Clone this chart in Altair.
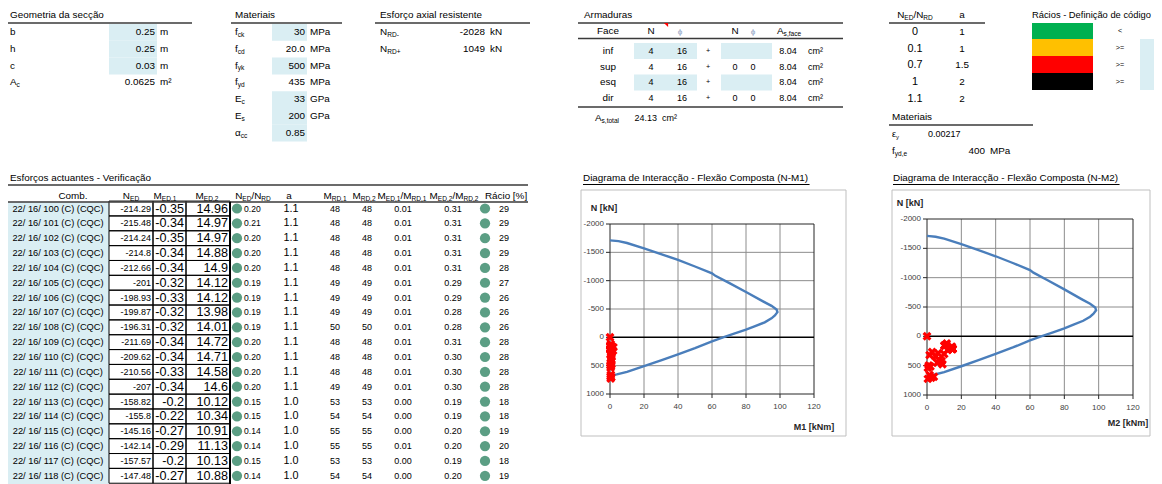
import altair as alt
import pandas as pd

# ---------------------------------------------------------------- data
geo_labels = [("b", ""), ("h", ""), ("c", ""), ("A", "c")]
geo_values = ["0.25", "0.25", "0.03", "0.0625"]
geo_units = ["m", "m", "m", "m²"]
geo_input = [True, True, True, False]

mat_labels = [("f", "ck"), ("f", "cd"), ("f", "yk"), ("f", "yd"), ("E", "c"), ("E", "s"), ("α", "cc")]
mat_values = ["30", "20.0", "500", "435", "33", "200", "0.85"]
mat_units = ["MPa", "MPa", "MPa", "MPa", "GPa", "GPa", ""]
mat_input = [True, False, True, False, True, True, True]

axial_labels = [("N", "RD-"), ("N", "RD+")]
axial_values = ["-2028", "1049"]

arm_faces = ["inf", "sup", "esq", "dir"]
arm_n1 = ["4", "4", "4", "4"]
arm_phi1 = ["16", "16", "16", "16"]
arm_n2 = ["", "0", "", "0"]
arm_phi2 = ["", "0", "", "0"]
arm_as = ["8.04", "8.04", "8.04", "8.04"]
arm_input = [True, False, True, False]
arm_total = "24.13"

a_ratio = ["0", "0.1", "0.7", "1", "1.1"]
a_value = ["1", "1", "1.5", "2", "2"]
eps_y = "0.00217"
fyd_e = "400"

code_colors = ["#00B050", "#FFC000", "#FF0000", "#000000"]
code_ops = ["<", ">=", ">=", ">="]

comb = ["22/ 16/ 100 (C) (CQC)", "22/ 16/ 101 (C) (CQC)", "22/ 16/ 102 (C) (CQC)", "22/ 16/ 103 (C) (CQC)",
        "22/ 16/ 104 (C) (CQC)", "22/ 16/ 105 (C) (CQC)", "22/ 16/ 106 (C) (CQC)", "22/ 16/ 107 (C) (CQC)",
        "22/ 16/ 108 (C) (CQC)", "22/ 16/ 109 (C) (CQC)", "22/ 16/ 110 (C) (CQC)", "22/ 16/ 111 (C) (CQC)",
        "22/ 16/ 112 (C) (CQC)", "22/ 16/ 113 (C) (CQC)", "22/ 16/ 114 (C) (CQC)", "22/ 16/ 115 (C) (CQC)",
        "22/ 16/ 116 (C) (CQC)", "22/ 16/ 117 (C) (CQC)", "22/ 16/ 118 (C) (CQC)"]
n_ed = [-214.29, -215.48, -214.24, -214.8, -212.66, -201, -198.93, -199.87, -196.31, -211.69,
        -209.62, -210.56, -207, -158.82, -155.8, -145.16, -142.14, -157.57, -147.48]
m_ed1 = [-0.35, -0.34, -0.35, -0.34, -0.34, -0.32, -0.33, -0.32, -0.32, -0.34,
         -0.34, -0.33, -0.34, -0.2, -0.22, -0.27, -0.29, -0.2, -0.27]
m_ed2 = [14.96, 14.97, 14.97, 14.88, 14.9, 14.12, 14.12, 13.98, 14.01, 14.72,
         14.71, 14.58, 14.6, 10.12, 10.34, 10.91, 11.13, 10.13, 10.88]
n_ratio = [0.20, 0.21, 0.20, 0.20, 0.20, 0.19, 0.19, 0.19, 0.19, 0.20,
           0.20, 0.20, 0.20, 0.15, 0.15, 0.14, 0.14, 0.15, 0.14]
a_row = [1.1, 1.1, 1.1, 1.1, 1.1, 1.1, 1.1, 1.1, 1.1, 1.1, 1.1, 1.1, 1.1, 1.0, 1.0, 1.0, 1.0, 1.0, 1.0]
m_rd1 = [48, 48, 48, 48, 48, 49, 49, 49, 50, 48, 48, 48, 49, 53, 54, 55, 55, 53, 54]
m_rd2 = [48, 48, 48, 48, 48, 49, 49, 49, 50, 48, 48, 48, 49, 53, 54, 55, 55, 53, 54]
r_m1 = [0.01, 0.01, 0.01, 0.01, 0.01, 0.01, 0.01, 0.01, 0.01, 0.01,
        0.01, 0.01, 0.01, 0.00, 0.00, 0.00, 0.01, 0.00, 0.00]
r_m2 = [0.31, 0.31, 0.31, 0.31, 0.31, 0.29, 0.29, 0.28, 0.28, 0.31,
        0.30, 0.30, 0.30, 0.19, 0.19, 0.20, 0.20, 0.19, 0.20]
racio = [29, 29, 29, 29, 28, 27, 26, 26, 26, 28, 28, 28, 28, 18, 18, 19, 20, 18, 19]

# combinations further down the sheet (not visible in the table, only in the diagrams)
hid_n_ed = [0, -120, -175, -235, -265, -290, -300, -320, -345, -395, -420, -450, -475, -495, -515, -535,
            -660, -690, -705, -725]
hid_m1 = [0.0, 0.5, 2.0, 1.8, 0.6, 0.9, 0.3, 0.7, 1.0, 0.5, 0.8, 0.4, 0.9, 0.2, 0.6, 0.3, 0.5, 0.3, 0.8, 0.4]
hid_m2 = [0.0, 11.5, 14.5, 12.0, 3.0, 6.5, 10.0, 1.5, 5.0, 7.0, 8.5, 6.0, 9.0, 1.0, 2.0, 0.5, 1.5, 4.0, 2.5, 0.5]

# interaction curve (M [kNm], N [kN])
curve_m = [0, 5, 10, 20, 30, 40, 50, 60, 62, 70, 80, 90, 95, 98, 98.5, 97, 95, 91, 85, 80,
           73, 66.5, 60, 50, 40, 30, 20, 10, 4, 0]
curve_n = [-1712, -1698, -1665, -1570, -1470, -1365, -1250, -1130, -1085, -960, -800, -635, -555, -490,
           -445, -385, -335, -265, -195, -135, -65, 0, 70, 190, 300, 405, 510, 610, 655, 680]

n_ticks = [-2000, -1500, -1000, -500, 0, 500, 1000]
m_ticks = [0, 20, 40, 60, 80, 100, 120]

# ---------------------------------------------------------------- style
W, H = 1146, 476
FONT = "Liberation Sans, Arial, sans-serif"      # used at reduced size to imitate Arial Narrow
FONT_R = "Liberation Sans, Arial, sans-serif"    # regular
NF = 0.9
BLUE = "#DAEEF3"
LINE = "#3a3a3a"
GREEN_DOT = "#5B9E84"

AW = {' ': 278, '.': 278, ',': 278, '-': 333, '/': 278, '+': 584, '(': 333, ')': 333, '[': 278, ']': 278,
      '%': 889, '<': 584, '>': 584, '=': 584, 'A': 667, 'C': 722, 'D': 722, 'E': 667, 'M': 833, 'N': 722,
      'Q': 778, 'R': 722, 'a': 556, 'c': 500, 'd': 556, 'e': 556, 'f': 278, 'k': 500, 's': 500, 'y': 500,
      'l': 222, 't': 278, 'o': 556, 'i': 222, 'r': 333, 'α': 578, 'ε': 440, 'ϕ': 600, 'g': 556, 'm': 833,
      'n': 556, 'p': 556, 'u': 556, 'x': 500, 'ç': 500, 'ã': 556, 'I': 278, 'F': 611, 'P': 667, 'v': 500}


def tw(s, size):
    return sum(AW.get(c, 556) for c in s) / 1000.0 * size * NF


TX, RU, RE = {}, {}, {}


def T(x, y, t, align="left", size=11, color="#000000", weight="normal", font=FONT):
    fs = round(size * NF, 2) if font == FONT else size
    TX.setdefault((align, fs, color, weight, font), []).append(dict(x=x, y=y, t=str(t)))


def R(x, y, parts, align="left", size=11, color="#000000"):
    sub = round(size * 0.66, 1)
    widths = [tw(p, sub if s else size) for p, s in parts]
    total = sum(widths)
    x0 = x if align == "left" else (x - total / 2 if align == "center" else x - total)
    for (p, s), w in zip(parts, widths):
        if p:
            if s:
                T(x0, y + size * 0.25, p, "left", sub, color)
            else:
                T(x0, y, p, "left", size, color)
        x0 += w


def L(x1, y1, x2, y2, color=LINE, width=1.0):
    RU.setdefault((color, width), []).append(dict(x=x1, y=y1, x2=x2, y2=y2))


def B(x1, y1, x2, y2, fill="none", stroke="none", sw=1.0):
    RE.setdefault((fill, stroke, sw), []).append(dict(x=x1, y=y1, x2=x2, y2=y2))


CXS = alt.Scale(domain=[0, W + 16], range=[-8, W + 8], nice=False, zero=False)
CYS = alt.Scale(domain=[0, H + 16], range=[-8, H + 8], nice=False, zero=False)


def cX(f):
    return alt.X(f + ":Q", scale=CXS, axis=None)


def cY(f):
    return alt.Y(f + ":Q", scale=CYS, axis=None)


# ---------------------------------------------------------------- Geometria
RY = 16.8
T(10, 15, "Geometria da secção")
L(6, 23, 192, 23, width=1.5)
for i in range(4):
    y = 32 + RY * i
    if geo_input[i]:
        B(109, y - 8, 157, y + 8.8, fill=BLUE)
    R(10, y, [(geo_labels[i][0], 0), (geo_labels[i][1], 1)])
    T(155, y, geo_values[i], "right")
    T(160, y, geo_units[i])

# ---------------------------------------------------------------- Materiais
T(235, 15, "Materiais")
L(231, 23, 342, 23, width=1.5)
for i in range(7):
    y = 32 + RY * i
    if mat_input[i]:
        B(272, y - 8, 307, y + 8.8, fill=BLUE)
    R(235, y, [(mat_labels[i][0], 0), (mat_labels[i][1], 1)])
    T(305, y, mat_values[i], "right")
    T(310, y, mat_units[i])

# ---------------------------------------------------------------- Esforço axial
T(380, 15, "Esforço axial resistente")
L(375, 23, 530, 23, width=1.5)
for i in range(2):
    y = 32 + RY * i
    R(380, y, [(axial_labels[i][0], 0), (axial_labels[i][1], 1)])
    T(485, y, axial_values[i], "right")
    T(490, y, "kN")

# ---------------------------------------------------------------- Armaduras
T(584, 15, "Armaduras")
L(578, 23, 843, 23, width=1.5)
L(578, 38.5, 843, 38.5, width=1.5)
L(578, 107, 843, 107, width=1.5)
T(608, 31, "Face", "center")
T(651, 31, "N", "center")
T(680, 32, "ϕ", "center", 9, "#8E9FC4", font=FONT_R)
T(735, 31, "N", "center")
T(753, 32, "ϕ", "center", 9, "#8E9FC4", font=FONT_R)
R(777, 31, [("A", 0), ("s,face", 1)])
for i in range(4):
    y = 51 + 15.7 * i
    if arm_input[i]:
        B(634, y - 8, 697, y + 8, fill=BLUE)
        B(721, y - 8, 772, y + 8, fill=BLUE)
    T(608, y, arm_faces[i], "center")
    T(651, y, arm_n1[i], "center", 10)
    T(682, y, arm_phi1[i], "center", 10)
    T(708, y, "+", "center", 8)
    T(735, y, arm_n2[i], "center", 10)
    T(753, y, arm_phi2[i], "center", 10)
    T(788, y, arm_as[i], "center", 10)
    T(808, y, "cm²", "left", 10)
R(607, 118, [("A", 0), ("s,total", 1)], "center")
T(657, 118, arm_total, "right", 10)
T(662, 118, "cm²", "left", 10)

# ---------------------------------------------------------------- N/N - a table
R(915, 15, [("N", 0), ("ED", 1), ("/N", 0), ("RD", 1)], "center")
T(962, 15, "a", "center")
L(889, 23, 985, 23, width=1.5)
for i in range(5):
    y = 32 + 16.7 * i
    T(915, y, a_ratio[i], "center", 12, font=FONT_R)
    T(962, y, a_value[i], "center", 11)
T(892, 117, "Materiais")
L(889, 125, 1033, 125, width=1.5)
R(892, 134, [("ε", 0), ("y", 1)], size=10)
T(928, 134, eps_y, "left", 10)
R(892, 151, [("f", 0), ("yd,e", 1)])
T(985, 151, fyd_e, "right")
T(990, 151, "MPa")

# ---------------------------------------------------------------- Rácios
T(1032, 15, "Rácios - Definição de código", "left", 10.4, font=FONT_R)
bounds = [23, 39, 56, 73, 90]
for i in range(4):
    B(1032, bounds[i], 1093, bounds[i + 1], fill=code_colors[i])
    T(1120, (bounds[i] + bounds[i + 1]) / 2, code_ops[i], "center", 8)
B(1140, 39, 1162, 90, fill=BLUE)

# ---------------------------------------------------------------- Esforços actuantes
T(10, 178, "Esforços actuantes - Verificação")
L(8, 185, 528, 185, width=1.5)
L(8, 202, 528, 202, width=1.5)
B(8, 202.5, 109, 492, fill=BLUE)
HY = 196
T(73, HY, "Comb.", "center")
R(131, HY, [("N", 0), ("ED", 1)], "center")
R(165, HY, [("M", 0), ("ED,1", 1)], "center")
R(207, HY, [("M", 0), ("ED,2", 1)], "center")
R(253, HY, [("N", 0), ("ED", 1), ("/N", 0), ("RD", 1)], "center")
T(289, HY, "a", "center")
R(335, HY, [("M", 0), ("RD,1", 1)], "center")
R(364, HY, [("M", 0), ("RD,2", 1)], "center")
R(402, HY, [("M", 0), ("ED,1", 1), ("/M", 0), ("RD,1", 1)], "center")
R(454, HY, [("M", 0), ("ED,2", 1), ("/M", 0), ("RD,2", 1)], "center")
T(506, HY, "Rácio [%]", "center")

ROW0, RH = 208.5, 14.85
dots = []
for i in range(len(comb)):
    y = ROW0 + RH * i
    for xa, xb in [(109, 153), (153, 186), (186, 230)]:
        B(xa, y - RH / 2, xb, y + RH / 2, stroke="#000000", sw=1)
    T(58, y, comb[i], "center", 10.3)
    T(151, y, f"{n_ed[i]:g}", "right", 10)
    T(184, y, f"{m_ed1[i]:g}", "right", 14)
    T(228, y, f"{m_ed2[i]:g}", "right", 14)
    T(244, y, f"{n_ratio[i]:.2f}", "left", 9.5)
    T(291, y, f"{a_row[i]:.1f}", "center", 12, font=FONT_R)
    T(335, y, m_rd1[i], "center", 10)
    T(367, y, m_rd2[i], "center", 10)
    T(403, y, f"{r_m1[i]:.2f}", "center", 10)
    T(453, y, f"{r_m2[i]:.2f}", "center", 10)
    T(504, y, racio[i], "center", 10)
    dots.append(dict(x=237, y=y))
    dots.append(dict(x=485, y=y))
L(230, 202, 230, 492, "#000000", 2)

# ---------------------------------------------------------------- layers
layers = []
for (fill, stroke, sw), rows in RE.items():
    kw = {}
    if fill == "none":
        kw.update(fill="white", fillOpacity=0)
    else:
        kw.update(fill=fill)
    if stroke != "none":
        kw.update(stroke=stroke, strokeWidth=sw)
    else:
        kw.update(strokeWidth=0)
    layers.append(alt.Chart(pd.DataFrame(rows)).mark_rect(**kw).encode(
        x=cX("x"), x2="x2:Q", y=cY("y"), y2="y2:Q"))
for (color, width), rows in RU.items():
    layers.append(alt.Chart(pd.DataFrame(rows)).mark_rule(color=color, strokeWidth=width).encode(
        x=cX("x"), x2="x2:Q", y=cY("y"), y2="y2:Q"))
layers.append(alt.Chart(pd.DataFrame(dots)).mark_circle(size=105, color=GREEN_DOT, opacity=1).encode(
    x=cX("x"), y=cY("y")))

# ---------------------------------------------------------------- diagrams
XSHAPE = "M-1,-0.5L-0.5,-1L0,-0.5L0.5,-1L1,-0.5L0.5,0L1,0.5L0.5,1L0,0.5L-0.5,1L-1,0.5L-0.5,0Z"
curve_df = pd.DataFrame(dict(m=curve_m, n=curve_n, o=list(range(len(curve_m)))))


def diagram(px0, px1, py0, py1, area, title, tpos, mlab, mpos, npos, mvals):
    xs = alt.Scale(domain=[0, 120], range=[px0 - 8, px1 - 8], nice=False, zero=False)
    ys = alt.Scale(domain=[-2000, 1000], range=[py0 - 8, py1 - 8], nice=False, zero=False)
    X = lambda f: alt.X(f + ":Q", scale=xs, axis=None)
    Y = lambda f: alt.Y(f + ":Q", scale=ys, axis=None)
    out = []
    out.append(alt.Chart(pd.DataFrame([dict(x=area[0], y=area[1], x2=area[2], y2=area[3])])).mark_rect(
        fill="white", stroke="#BFBFBF", strokeWidth=1).encode(x=cX("x"), x2="x2:Q", y=cY("y"), y2="y2:Q"))
    gv = pd.DataFrame(dict(m=m_ticks[1:-1], n0=-2000, n1=1000))
    out.append(alt.Chart(gv).mark_rule(color="#8C8C8C", strokeWidth=1).encode(x=X("m"), y=Y("n0"), y2="n1:Q"))
    gh = pd.DataFrame(dict(n=[t for t in n_ticks[1:-1] if t != 0], m0=0, m1=120))
    out.append(alt.Chart(gh).mark_rule(color="#8C8C8C", strokeWidth=1).encode(y=Y("n"), x=X("m0"), x2="m1:Q"))
    out.append(alt.Chart(pd.DataFrame([dict(m0=0, m1=120, n0=-2000, n1=1000)])).mark_rect(
        fill="white", fillOpacity=0, stroke="#262626", strokeWidth=1).encode(
        x=X("m0"), x2="m1:Q", y=Y("n0"), y2="n1:Q"))
    out.append(alt.Chart(pd.DataFrame([dict(n=0, m0=0, m1=120)])).mark_rule(
        color="#000000", strokeWidth=1.5).encode(y=Y("n"), x=X("m0"), x2="m1:Q"))
    nt = pd.DataFrame(dict(n=n_ticks, lab=[str(v) for v in n_ticks]))
    out.append(alt.Chart(nt).mark_rule(color="#262626").encode(
        y=Y("n"), x=alt.value(px0 - 8 - 4), x2=alt.value(px0 - 8)))
    out.append(alt.Chart(nt).mark_text(align="right", baseline="middle", font=FONT_R, fontSize=8,
                                       color="#404040").encode(
        y=Y("n"), x=alt.value(px0 - 8 - 6), text="lab:N"))
    mt = pd.DataFrame(dict(m=m_ticks, lab=[str(v) for v in m_ticks]))
    out.append(alt.Chart(mt).mark_rule(color="#262626").encode(
        x=X("m"), y=alt.value(py1 - 8), y2=alt.value(py1 - 8 + 4)))
    out.append(alt.Chart(mt).mark_text(align="center", baseline="middle", font=FONT_R, fontSize=8,
                                       color="#404040").encode(
        x=X("m"), y=alt.value(py1 - 8 + 13), text="lab:N"))
    out.append(alt.Chart(curve_df).mark_line(color="#4A7EBB", strokeWidth=2.4).encode(
        x=X("m"), y=Y("n"), order="o:Q"))
    pts = pd.DataFrame(dict(m=mvals, n=[-v for v in n_ed + hid_n_ed]))
    out.append(alt.Chart(pts).mark_point(shape=XSHAPE, filled=True, size=80, color="#FF0000",
                                         opacity=1).encode(x=X("m"), y=Y("n")))
    txt = pd.DataFrame([dict(x=tpos[0], y=tpos[1], t=title)])
    out.append(alt.Chart(txt).mark_text(align="left", baseline="middle", font=FONT,
                                        fontSize=round(11 * NF, 2)).encode(
        x=cX("x"), y=cY("y"), text="t:N"))
    ul = pd.DataFrame([dict(x=tpos[0], x2=tpos[0] + tw(title, 11) + 1, y=tpos[1] + 6.5)])
    out.append(alt.Chart(ul).mark_rule(color="#000000", strokeWidth=1).encode(x=cX("x"), x2="x2:Q", y=cY("y")))
    tt = pd.DataFrame([dict(x=npos[0], y=npos[1], t="N [kN]"), dict(x=mpos[0], y=mpos[1], t=mlab)])
    out.append(alt.Chart(tt).mark_text(align="center", baseline="middle", font=FONT_R, fontSize=9,
                                       fontWeight="bold", color="#262626").encode(
        x=cX("x"), y=cY("y"), text="t:N"))
    return out


layers += diagram(610, 814, 224, 394, (581, 190, 846, 436),
                  "Diagrama de Interacção - Flexão Composta (N-M1)", (583, 178),
                  "M1 [kNm]", (814, 427), (604, 208), [abs(v) for v in m_ed1 + hid_m1])
layers += diagram(927, 1133, 219, 395, (892, 190, 1150, 436),
                  "Diagrama de Interacção - Flexão Composta (N-M2)", (893, 178),
                  "M2 [kNm]", (1128, 423), (910, 203), [abs(v) for v in m_ed2 + hid_m2])

# red comment marker of the Armaduras header
layers.append(alt.Chart(pd.DataFrame([dict(x=666, y=25)])).mark_point(
    shape="M-1,-1L1,-1L1,1Z", filled=True, size=18, color="#FF0000", opacity=1).encode(x=cX("x"), y=cY("y")))

for (align, size, color, weight, font), rows in TX.items():
    layers.append(alt.Chart(pd.DataFrame(rows)).mark_text(
        align=align, baseline="middle", font=font, fontSize=size, fontWeight=weight, color=color).encode(
        x=cX("x"), y=cY("y"), text="t:N"))

chart = alt.layer(*layers).resolve_scale(x="independent", y="independent").properties(
    width=W, height=H, padding=0, autosize=alt.AutoSizeParams(type="none"),
    background="white").configure_view(stroke=None)

chart.save("out.html", embed_options={"renderer": "svg", "actions": False})
